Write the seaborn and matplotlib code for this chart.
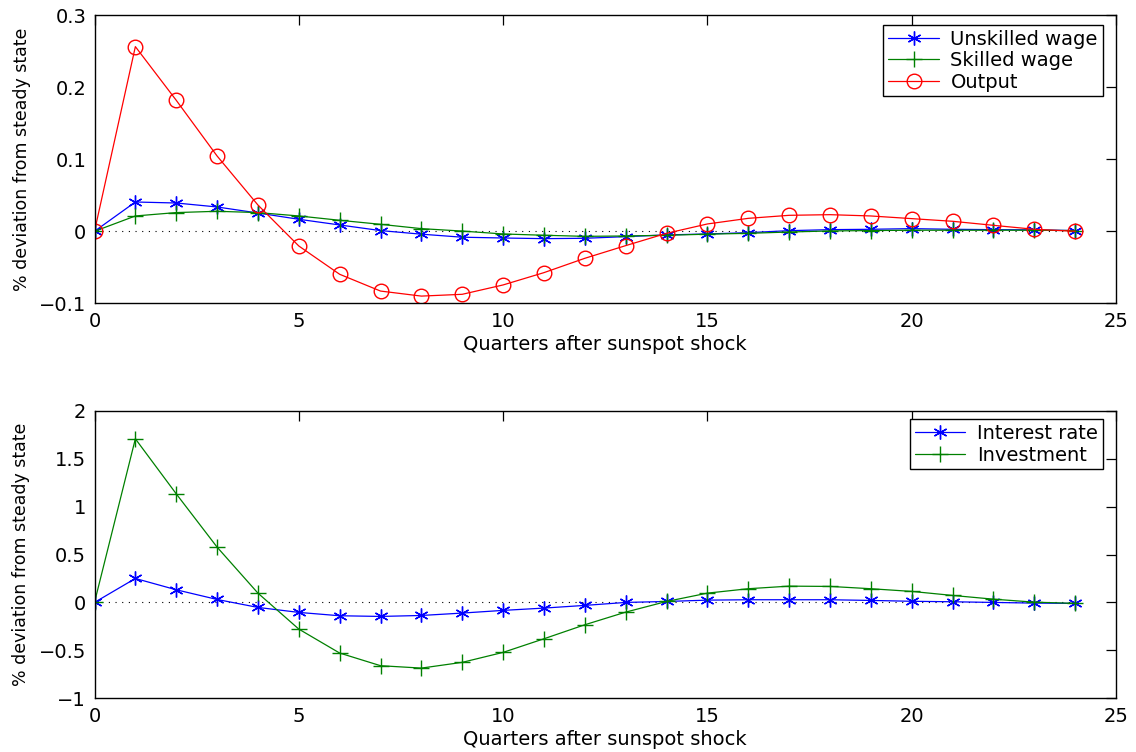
import numpy as np
import pandas as pd
import seaborn as sns
import matplotlib
matplotlib.use("Agg")
import matplotlib.pyplot as plt

quarters = list(range(25))

unskilled_wage = [0.0, 0.0407, 0.0393, 0.0338, 0.0254, 0.0167, 0.0088, 0.0010, -0.0040, -0.0082,
                  -0.0093, -0.0102, -0.0097, -0.0074, -0.0050, -0.0037, -0.0019, 0.0009, 0.0023,
                  0.0028, 0.0037, 0.0028, 0.0023, 0.0020, 0.0010]
skilled_wage = [0.0, 0.0213, 0.0260, 0.0278, 0.0260, 0.0213, 0.0153, 0.0097, 0.0037, 0.0003,
                -0.0037, -0.0055, -0.0070, -0.0065, -0.0055, -0.0040, -0.0028, -0.0010, 0.0005,
                0.0010, 0.0015, 0.0015, 0.0015, 0.0015, 0.0010]
output = [0.0, 0.2565, 0.1820, 0.1046, 0.0365, -0.0204, -0.0597, -0.0830, -0.0900, -0.0875,
          -0.0745, -0.0574, -0.0375, -0.0199, -0.0028, 0.0102, 0.0180, 0.0222, 0.0231,
          0.0213, 0.0176, 0.0139, 0.0083, 0.0028, 0.0]

interest_rate = [0.0, 0.250, 0.132, 0.031, -0.052, -0.104, -0.139, -0.146, -0.136, -0.111,
                 -0.083, -0.059, -0.031, 0.0, 0.010, 0.024, 0.028, 0.028, 0.028, 0.021,
                 0.012, 0.007, 0.0, -0.007, -0.010]
investment = [0.0, 1.707, 1.133, 0.577, 0.097, -0.278, -0.528, -0.660, -0.685, -0.625,
              -0.521, -0.379, -0.233, -0.101, 0.010, 0.097, 0.143, 0.170, 0.167, 0.143,
              0.115, 0.073, 0.034, 0.003, -0.010]

top_labels = ["Unskilled wage", "Skilled wage", "Output"]
bottom_labels = ["Interest rate", "Investment"]
xlabel = "Quarters after sunspot shock"
ylabel = "% deviation from steady state"

sns.set_theme(style="white")
plt.rcParams['font.family'] = ['DejaVu Sans']
plt.rcParams['text.color'] = 'black'
plt.rcParams['axes.labelcolor'] = 'black'
plt.rcParams['xtick.color'] = 'black'
plt.rcParams['ytick.color'] = 'black'

fig = plt.figure(figsize=(11.36, 7.52), dpi=100)
ax1 = fig.add_axes([94.5 / 1136, 1 - 303.3 / 752, 1021.5 / 1136, 288 / 752])
ax2 = fig.add_axes([94.5 / 1136, 1 - 698.3 / 752, 1021.5 / 1136, 287.6 / 752])

BLUE, GREEN, RED = "#0000ff", "#008000", "#ff0000"
ASTERISK = (6, 2, 0)
lw = 0.9

def draw(ax, series, labels, styles):
    ax.plot([0, 24], [0, 0], linestyle=(0, (1, 5)), color="black", linewidth=0.8, zorder=1)
    for vals, lab, (col, mk, ms) in zip(series, labels, styles):
        df = pd.DataFrame({"q": quarters, "v": vals})
        kw = dict(marker=mk, markersize=ms, color=col, linewidth=lw, label=lab,
                  markeredgecolor=col, markeredgewidth=1.0)
        if mk == "o":
            kw["markerfacecolor"] = "none"
        sns.lineplot(data=df, x="q", y="v", ax=ax, **kw)
    ax.set_xlim(0, 25)
    ax.set_xticks([0, 5, 10, 15, 20, 25])
    ax.set_xlabel(xlabel, fontsize=14, labelpad=3)
    ax.set_ylabel(ylabel, fontsize=12.5, labelpad=6)
    ax.tick_params(direction="in", length=7, width=0.9, top=True, right=True,
                   labelsize=14, pad=6, colors="black")
    for sp in ax.spines.values():
        sp.set_color("black")
        sp.set_linewidth(1.0)
        sp.set_visible(True)

draw(ax1, [unskilled_wage, skilled_wage, output], top_labels,
     [(BLUE, ASTERISK, 10), (GREEN, "+", 11), (RED, "o", 10.5)])
ax1.set_ylim(-0.1, 0.3)
ax1.set_yticks([-0.1, 0, 0.1, 0.2, 0.3])
ax1.set_yticklabels(["\u22120.1", "0", "0.1", "0.2", "0.3"])

draw(ax2, [interest_rate, investment], bottom_labels,
     [(BLUE, ASTERISK, 10), (GREEN, "+", 11)])
ax2.set_ylim(-1, 2)
ax2.set_yticks([-1, -0.5, 0, 0.5, 1, 1.5, 2])
ax2.set_yticklabels(["\u22121", "\u22120.5", "0", "0.5", "1", "1.5", "2"])

for ax, anchor in [(ax1, (0.987, 0.966)), (ax2, (0.987, 0.970))]:
    leg = ax.legend(loc="upper right", bbox_to_anchor=anchor, fontsize=14,
                    frameon=True, fancybox=False, handlelength=2.6, handletextpad=0.6,
                    borderpad=0.25, labelspacing=0.12, borderaxespad=0)
    leg.get_frame().set_edgecolor("black")
    leg.get_frame().set_linewidth(1.0)
    leg.get_frame().set_alpha(1)

fig.savefig("out.png", dpi=100, facecolor="white")
